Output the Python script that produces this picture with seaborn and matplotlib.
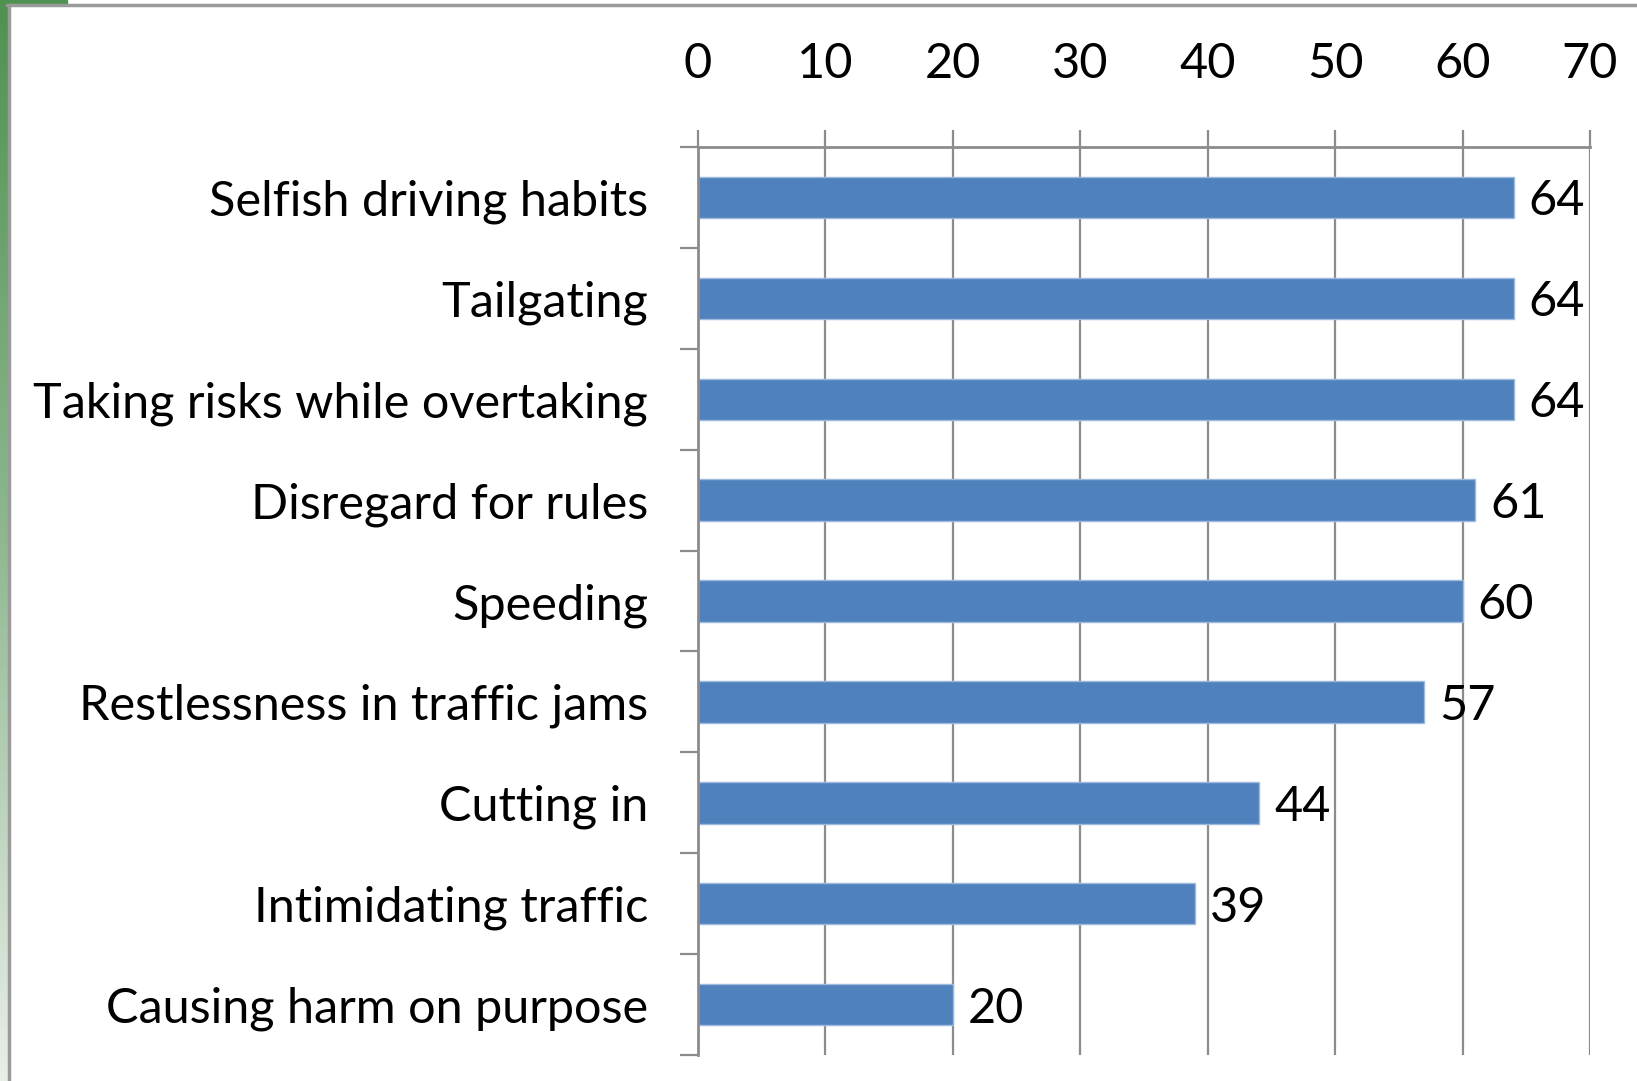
import matplotlib
matplotlib.use("Agg")
import matplotlib.pyplot as plt
import numpy as np
import pandas as pd
import seaborn as sns
from matplotlib.patches import Rectangle
from matplotlib.lines import Line2D
from matplotlib.ticker import MultipleLocator, FixedLocator
from matplotlib.colors import LinearSegmentedColormap

# data
categories = ['Selfish driving habits', 'Tailgating', 'Taking risks while overtaking',
              'Disregard for rules', 'Speeding', 'Restlessness in traffic jams',
              'Cutting in', 'Intimidating traffic', 'Causing harm on purpose']
values = [64, 64, 64, 61, 60, 57, 44, 39, 20]

df = pd.DataFrame({'reason': categories, 'share': values})

sns.set_style('white')
plt.rcParams['font.family'] = ['Lato', 'DejaVu Sans']
plt.rcParams['text.color'] = 'black'

fig = plt.figure(figsize=(16.37, 10.81), dpi=100)
ax = fig.add_axes([0.4264, 0.024, 0.5449, 0.840])

sns.barplot(data=df, y='reason', x='share', orient='h', color='#4F81BD',
            saturation=1, width=0.41, edgecolor='#9DB9DC', linewidth=1, ax=ax)

ax.set_xlim(0, 70)
ax.set_ylim(len(categories) - 0.5, -0.5)
ax.xaxis.set_major_locator(MultipleLocator(10))
ax.grid(axis='x', color='#8c8c8c', linewidth=1.6)
ax.set_axisbelow(True)
ax.xaxis.tick_top()
ax.tick_params(axis='x', which='major', direction='out', length=12, width=1.6,
               color='#8c8c8c', pad=32, labelsize=35, top=True, bottom=False,
               labelcolor='black')
ax.tick_params(axis='y', which='major', length=0, pad=36, labelsize=35,
               labelcolor='black')
ax.yaxis.set_minor_locator(FixedLocator(np.arange(-0.5, len(categories), 1)))
ax.tick_params(axis='y', which='minor', direction='out', length=13, width=1.6,
               color='#8c8c8c', left=True)
ax.set_xlabel('')
ax.set_ylabel('')

for side in ['right', 'bottom']:
    ax.spines[side].set_visible(False)
for side in ['top', 'left']:
    ax.spines[side].set_color('#8c8c8c')
    ax.spines[side].set_linewidth(2)

texts = ax.bar_label(ax.containers[0], labels=[str(v) for v in values], padding=11,
                     fontsize=35, color='black')
for t in texts:
    t.set_verticalalignment('center_baseline')

# slide frame: green gradient strip on the left and grey border lines
strip = fig.add_axes([0, 0, 0.0045, 1])
grad = np.linspace(0, 1, 256).reshape(-1, 1)
cmap = LinearSegmentedColormap.from_list('g', ['#4f9150', '#8fb890', '#e9eee9'])
strip.imshow(grad, aspect='auto', cmap=cmap, extent=[0, 1, 0, 1])
strip.set_axis_off()
fig.patches.append(Rectangle((0, 0.996), 0.041, 0.004, transform=fig.transFigure,
                             color='#4f9150', zorder=0))
fig.lines.append(Line2D([0.0045, 1], [0.9953, 0.9953], transform=fig.transFigure,
                        color='#9a9a9a', linewidth=2.5))
fig.lines.append(Line2D([0.0052, 0.0052], [0, 0.9953], transform=fig.transFigure,
                        color='#9a9a9a', linewidth=2.5))

fig.savefig('out.png', dpi=100)
